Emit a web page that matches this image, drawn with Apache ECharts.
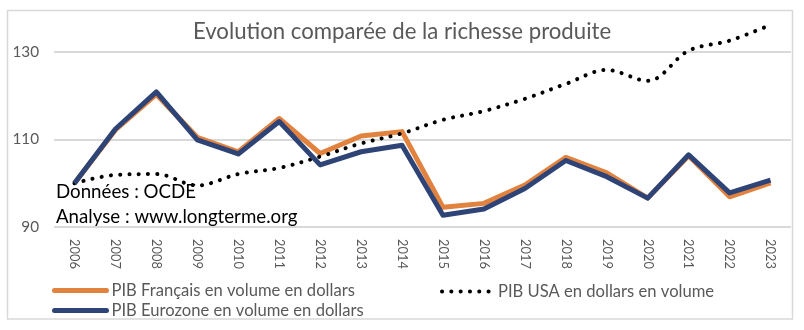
<!DOCTYPE html>
<html><head><meta charset="utf-8">
<script src="https://cdn.jsdelivr.net/npm/echarts@6/dist/echarts.min.js"></script>
<style>html,body{margin:0;padding:0;background:#fff}#c{width:804px;height:330px}</style>
</head><body><div id="c"></div>
<script>
const years = ['2006','2007','2008','2009','2010','2011','2012','2013','2014','2015','2016','2017','2018','2019','2020','2021','2022','2023'];
const pibFrance   = [100,112.2,120.3,110.5,107.2,114.8,106.8,110.8,111.8,94.5,95.4,99.6,105.9,102.4,96.6,106.3,96.9,100.1];
const pibUSA      = [100,101.9,102.1,99.5,102.1,103.5,106.1,109.1,111.4,114.5,116.5,119.3,122.7,125.9,123.4,130.3,132.6,136.2];
const pibEurozone = [100,112.4,120.9,109.9,106.7,114.1,104.2,107.2,108.7,92.7,94.1,98.8,105.2,101.5,96.6,106.5,97.8,100.7];
const yTickLabels = [90, 110, 130];
const titleText = 'Evolution comparée de la richesse produite';
const seriesNames = ['PIB Français en volume en dollars', 'PIB USA en dollars en volume', 'PIB Eurozone en volume en dollars'];
const notes = ['Données : OCDE', 'Analyse : www.longterme.org'];

const FAM = 'Lato, "Noto Sans", sans-serif';
function fit(text, target){
  const c = document.createElement('canvas').getContext('2d');
  c.font = 'normal 100px ' + FAM;
  return Math.round(target / c.measureText(text).width * 1000) / 10;
}
const titleSize = fit(titleText, 419);
const noteSize = fit(notes[1], 241);
const legendSize = fit(seriesNames[0], 243);
const ySize = fit('130', 26.6);
const xSize = fit('2006', 30);

const ORANGE = '#E2823F', BLUE = '#2E4476', GREY = '#595959';

const chart = echarts.init(document.getElementById('c'), null, {renderer: 'canvas'});
chart.setOption({
  backgroundColor: '#fff',
  animation: false,
  textStyle: {fontFamily: FAM},
  title: {
    text: titleText, left: 'center', top: 17, padding: 0,
    textStyle: {fontFamily: FAM, fontSize: titleSize, fontWeight: 'normal', color: GREY, lineHeight: 30}
  },
  grid: {left: 54, right: 13, top: 8.25, bottom: 103, containLabel: false},
  xAxis: {
    type: 'category', data: years, boundaryGap: true,
    axisLine: {show: false}, axisTick: {show: false},
    axisLabel: {rotate: -90, margin: 12, interval: 0, fontSize: xSize, color: GREY, fontFamily: FAM}
  },
  yAxis: {
    type: 'value', min: 90, max: 140, interval: 10,
    axisLine: {show: false}, axisTick: {show: false},
    axisLabel: {margin: 15, fontSize: ySize, color: GREY, fontFamily: FAM,
      formatter: v => yTickLabels.includes(v) ? String(v) : ''},
    splitLine: {show: true, showMaxLine: false, lineStyle: {color: ['#d9d9d9', 'rgba(0,0,0,0)'], width: 2}}
  },
  legend: [
    {data: [seriesNames[0]], left: 52, top: 282, padding: 0, itemWidth: 52, itemHeight: 14,
     itemStyle: {opacity: 0},
     lineStyle: {width: 5, cap: 'round'}, textStyle: {fontSize: legendSize, color: GREY, fontFamily: FAM}},
    {data: [seriesNames[1]], left: 440, top: 283, padding: 0, itemWidth: 51, itemHeight: 14,
     itemStyle: {opacity: 0},
     lineStyle: {width: 4}, textStyle: {fontSize: legendSize, color: GREY, fontFamily: FAM}},
    {data: [seriesNames[2]], left: 52, top: 302, padding: 0, itemWidth: 52, itemHeight: 14,
     itemStyle: {opacity: 0},
     lineStyle: {width: 5, cap: 'round'}, textStyle: {fontSize: legendSize, color: GREY, fontFamily: FAM}}
  ],
  graphic: [
    {type: 'rect', z: 0, silent: true, shape: {x: 7.5, y: 10.5, width: 785, height: 308.5},
     style: {fill: 'none', stroke: '#d9d9d9', lineWidth: 1.5}},
    {type: 'text', z: 1, silent: true, style: {text: notes[0], x: 56, y: 192, fill: '#000', font: 'normal ' + noteSize + 'px ' + FAM, textVerticalAlign: 'middle', verticalAlign: 'middle'}},
    {type: 'text', z: 1, silent: true, style: {text: notes[1], x: 56, y: 217, fill: '#000', font: 'normal ' + noteSize + 'px ' + FAM, textVerticalAlign: 'middle', verticalAlign: 'middle'}}
  ],
  series: [
    {name: seriesNames[0], type: 'line', data: pibFrance, symbol: 'none', z: 2,
     lineStyle: {color: ORANGE, width: 5, join: 'round'}, itemStyle: {color: ORANGE}},
    {name: seriesNames[1], type: 'line', data: pibUSA, symbol: 'none', smooth: 0.35, z: 3,
     lineStyle: {color: '#000', width: 4, type: [0.1, 9.2], cap: 'round'}, itemStyle: {color: '#000'}},
    {name: seriesNames[2], type: 'line', data: pibEurozone, symbol: 'none', z: 4,
     lineStyle: {color: BLUE, width: 5, join: 'round'}, itemStyle: {color: BLUE}}
  ]
});
</script></body></html>
